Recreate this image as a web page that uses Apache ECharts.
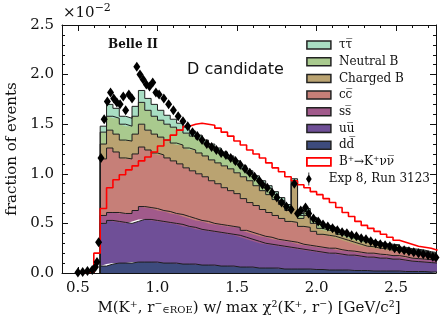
<!DOCTYPE html>
<html><head><meta charset="utf-8">
<script src="https://cdn.jsdelivr.net/npm/echarts@6/dist/echarts.min.js"></script>
<style>html,body{margin:0;padding:0;background:#fff}#c{width:446px;height:327px}</style>
</head><body><div id="c"></div>
<script>
const binWidth = 0.04;
const binCenters = [0.66,0.70,0.74,0.78,0.82,0.86,0.90,0.94,0.98,1.02,1.06,1.10,1.14,1.18,1.22,1.26,1.30,1.34,1.38,1.42,1.46,1.50,1.54,1.58,1.62,1.66,1.70,1.74,1.78,1.82,1.86,1.90,1.94,1.98,2.02,2.06,2.10,2.14,2.18,2.22,2.26,2.30,2.34,2.38,2.42,2.46,2.50,2.54,2.58,2.62,2.66,2.70,2.74];
const ddbar = [.07,.09,.10,.10,.10,.11,.11,.11,.11,.10,.10,.10,.09,.09,.09,.08,.08,.08,.07,.07,.07,.06,.06,.06,.05,.05,.05,.05,.04,.04,.04,.04,.04,.035,.035,.03,.03,.03,.03,.025,.025,.025,.02,.02,.02,.02,.02,.015,.015,.015,.015,.01,.01];
const uubar = [.43,.44,.42,.41,.40,.41,.43,.43,.42,.42,.41,.40,.40,.38,.37,.36,.35,.34,.34,.33,.32,.32,.30,.28,.27,.25,.24,.23,.23,.22,.21,.20,.19,.185,.175,.17,.17,.16,.15,.155,.145,.135,.14,.13,.13,.12,.12,.115,.105,.10,.095,.095,.09];
const ssbar = [.08,.08,.09,.09,.10,.11,.13,.12,.12,.11,.11,.10,.10,.10,.09,.09,.09,.08,.08,.08,.08,.08,.07,.07,.07,.07,.07,.06,.06,.06,.06,.05,.05,.05,.05,.05,.05,.045,.045,.04,.04,.04,.04,.04,.035,.035,.035,.035,.03,.03,.03,.03,.03];
const ccbar = [.57,.65,.61,.56,.55,.57,.60,.58,.56,.56,.54,.53,.51,.49,.48,.47,.45,.43,.41,.38,.36,.34,.32,.30,.29,.27,.25,.24,.22,.20,.20,.18,.18,.15,.13,.13,.12,.115,.105,.09,.08,.07,.065,.06,.06,.055,.05,.045,.045,.045,.04,.04,.035];
const chargedB = [.15,.18,.18,.18,.18,.20,.23,.20,.19,.18,.18,.18,.19,.20,.21,.21,.21,.21,.21,.22,.22,.21,.22,.22,.20,.19,.18,.16,.14,.11,.39,.08,.12,.08,.06,.05,.05,.04,.04,.04,.04,.04,.04,.03,.03,.03,.03,.03,.03,.03,.03,.02,.02];
const neutralB = [.12,.14,.16,.16,.15,.18,.22,.20,.18,.17,.16,.16,.15,.15,.14,.14,.13,.13,.12,.11,.10,.09,.08,.07,.07,.07,.06,.05,.04,.03,.03,.03,.04,.04,.04,.03,.02,.02,.02,.02,.02,.02,.01,.02,.01,.02,.02,.01,.01,.01,.01,.01,.01];
const tautau = [.06,.12,.10,.08,.08,.10,.12,.12,.12,.10,.09,.08,.07,.06,.05,.04,.03,.03,.03,.03,.03,.03,.03,.03,.03,.03,.03,.03,.03,.03,.02,.02,.03,.02,.02,.02,.02,.02,.02,.01,.01,.01,.01,.01,.01,.01,.01,.01,.01,.01,.01,.01,.01];
const sigCenters = [0.54,0.58,0.62].concat(binCenters);
const signal = [0.005,0.01,0.2,0.65,0.86,0.94,0.99,1.04,1.08,1.13,1.17,1.22,1.28,1.34,1.39,1.44,1.48,1.50,1.51,1.50,1.49,1.46,1.42,1.38,1.33,1.29,1.24,1.20,1.16,1.11,1.06,1.02,0.97,0.93,0.89,0.86,0.82,0.79,0.75,0.71,0.66,0.61,0.57,0.52,0.48,0.45,0.42,0.39,0.36,0.33,0.31,0.29,0.27,0.26,0.25,0.23];
const dataX = [0.50,0.53,0.56,0.59,0.61,0.62,0.63,0.645,0.665,0.685,0.705,0.725,0.745,0.765,0.785,0.80,0.82,0.84,0.87,0.89,0.91,0.93,0.95,0.97,0.99,1.01,1.04,1.07,1.10,1.13,1.16,1.19,1.22,1.25,1.28,1.31,1.34,1.37,1.40,1.43,1.46,1.49,1.52,1.55,1.58,1.61,1.64,1.66,1.69,1.72,1.75,1.78,1.81,1.84,1.86,1.88,1.90,1.93,1.95,1.98,2.01,2.04,2.07,2.10,2.13,2.16,2.19,2.22,2.25,2.28,2.31,2.34,2.37,2.40,2.43,2.46,2.49,2.52,2.55,2.58,2.61,2.64,2.67,2.70,2.73,2.75];
const dataY = [0.005,0.01,0.02,0.03,0.06,0.11,0.31,1.16,1.55,1.73,1.82,1.76,1.72,1.70,1.78,1.64,1.80,1.76,2.08,2.00,1.95,1.90,1.88,1.92,1.82,1.80,1.76,1.70,1.64,1.58,1.53,1.48,1.42,1.38,1.34,1.30,1.27,1.24,1.21,1.19,1.16,1.13,1.09,1.05,1.01,0.97,0.93,0.89,0.86,0.81,0.76,0.71,0.67,0.64,0.90,0.60,0.63,0.66,0.60,0.55,0.52,0.49,0.47,0.45,0.43,0.41,0.40,0.38,0.37,0.35,0.34,0.32,0.30,0.29,0.28,0.27,0.25,0.24,0.23,0.22,0.21,0.20,0.19,0.18,0.165,0.155];
const xTicks = [0.5,1.0,1.5,2.0,2.5];

const names = {tt:'ττ\u0305', nb:'Neutral B', cb:'Charged B', cc:'cc\u0305', ss:'ss\u0305', uu:'uu\u0305', dd:'dd\u0305', sig:'B⁺→K⁺νν\u0305', data:'Exp 8, Run 3123'};
const colors = {tt:'#a8dec3', nb:'#a9ca8e', cb:'#baa371', cc:'#c67f78', ss:'#a15a8b', uu:'#6f4f97', dd:'#3d4b7d'};
const serif = 'DejaVu Serif';

// histogram outline points, stored as [value, x] so that the library stacks the value column
function stepPts(centers, vals, lead) {
  const pts = [];
  if (lead) pts.push([0, centers[0]-binWidth/2]);
  centers.forEach((c,i)=>{ pts.push([vals[i], c-binWidth/2]); pts.push([vals[i], c+binWidth/2]); });
  return pts;
}
const layers = [['dd',ddbar],['uu',uubar],['ss',ssbar],['cc',ccbar],['cb',chargedB],['nb',neutralB],['tt',tautau]];
const series = layers.map(([k,v])=>({
  name: names[k], type:'line', stack:'mc', symbol:'none', clip:true,
  encode:{x:1, y:0},
  data: stepPts(binCenters, v, true),
  lineStyle:{color:'#1e1e1e', width:1},
  itemStyle:{color:colors[k]},
  areaStyle:{color:colors[k], opacity:1},
  emphasis:{disabled:true}, z:2
}));
series.push({name:names.sig, type:'line', symbol:'none', clip:true, encode:{x:1, y:0},
  data: stepPts(sigCenters, signal, false),
  lineStyle:{color:'#ff0000', width:1.6}, itemStyle:{color:'#ff0000'}, emphasis:{disabled:true}, z:3});
series.push({name:names.data, type:'scatter', symbol:'diamond', symbolSize:[7,10],
  data: dataX.map((x,i)=>[x,dataY[i]]), itemStyle:{color:'#000', opacity:1}, emphasis:{disabled:true}, z:4});

const tickLine = {color:'#111', width:1};
const axisFont = {fontFamily:serif, fontSize:15, color:'#111'};
function xAx(pos, major, labels) {
  return {type:'value', min:0.4, max:2.75, interval:0.1, position:pos,
    axisLine:{show:major, onZero:false, lineStyle:tickLine},
    axisTick: major ? {show:true, inside:true, length:6, lineStyle:tickLine, customValues:xTicks}
                    : {show:true, inside:true, length:3, lineStyle:tickLine},
    axisLabel: labels ? Object.assign({show:true, margin:8, customValues:xTicks, formatter:v=>v.toFixed(1)}, axisFont) : {show:false},
    splitLine:{show:false}};
}
const xAxes = [xAx('bottom',true,true), xAx('bottom',false,false), xAx('top',true,false), xAx('top',false,false)];
xAxes[0].name = 'M(K⁺, r⁻{sub|∈ROE}) w/ max χ²(K⁺, r⁻) [GeV/c²]';
xAxes[0].nameLocation = 'middle';
xAxes[0].nameGap = 27;
xAxes[0].nameTextStyle = {fontFamily:serif, fontSize:15, color:'#111', rich:{sub:{fontFamily:serif, fontSize:10, color:'#111', verticalAlign:'bottom', lineHeight:10}}};

function yAx(pos, labels) {
  return {type:'value', min:0, max:2.5, interval:0.5, position:pos,
    axisLine:{show:true, onZero:false, lineStyle:tickLine},
    axisTick:{show:true, inside:true, length:6, lineStyle:tickLine},
    minorTick:{show:true, splitNumber:5, length:3, lineStyle:tickLine},
    axisLabel: labels ? Object.assign({show:true, margin:8, formatter:v=>v.toFixed(1)}, axisFont) : {show:false},
    splitLine:{show:false}};
}
const yAxes = [yAx('left',true), yAx('right',false)];
yAxes[0].name = 'fraction of events';
yAxes[0].nameLocation = 'middle';
yAxes[0].nameGap = 35;
yAxes[0].nameTextStyle = {fontFamily:serif, fontSize:15, color:'#111'};

const legText = {fontFamily:serif, fontSize:12, color:'#111', lineHeight:13, padding:[0,0,0,3]};
const patch = k => ({name:names[k], icon:'rect', itemStyle:{color:colors[k], borderColor:'#222', borderWidth:1.5}});

const chart = echarts.init(document.getElementById('c'), null, {renderer:'canvas'});
chart.setOption({
  animation:false,
  backgroundColor:'#fff',
  grid:{left:62, right:10, top:25, bottom:54, containLabel:false, outerBoundsMode:'none'},
  xAxis:xAxes, yAxis:yAxes,
  legend:[
    {orient:'vertical', left:301, top:33.5, itemWidth:24, itemHeight:8, itemGap:3.7, selectedMode:false, textStyle:legText,
     data:[patch('tt'),patch('nb'),patch('cb'),patch('cc'),patch('ss'),patch('uu'),patch('dd'),
       {name:names.sig, icon:'rect', itemStyle:{color:'#fff', borderColor:'#ff0000', borderWidth:1.8}}]},
    {orient:'vertical', left:301, top:167.5, itemWidth:24, itemHeight:13, selectedMode:false, textStyle:legText,
     data:[{name:names.data, icon:'path://M3,0 L4,0 L4,3 L7,8 L4,13 L4,16 L3,16 L3,13 L0,8 L3,3 Z', itemStyle:{color:'#000', borderWidth:0}}]}
  ],
  graphic:[
    {type:'text', left:63, top:3, z:10, style:{text:'×10{sup|−2}', fontFamily:serif, fontSize:15, fill:'#111', lineHeight:20,
      rich:{sup:{fontFamily:serif, fontSize:11, fill:'#111', verticalAlign:'top', lineHeight:12}}}},
    {type:'text', left:108, top:39, z:10, style:{text:'Belle II', fontFamily:serif, fontWeight:'bold', fontSize:12, fill:'#111'}},
    {type:'text', left:187, top:62, z:10, style:{text:'D candidate', fontFamily:'DejaVu Sans', fontSize:16, fill:'#111'}}
  ],
  series:series
});
</script></body></html>
